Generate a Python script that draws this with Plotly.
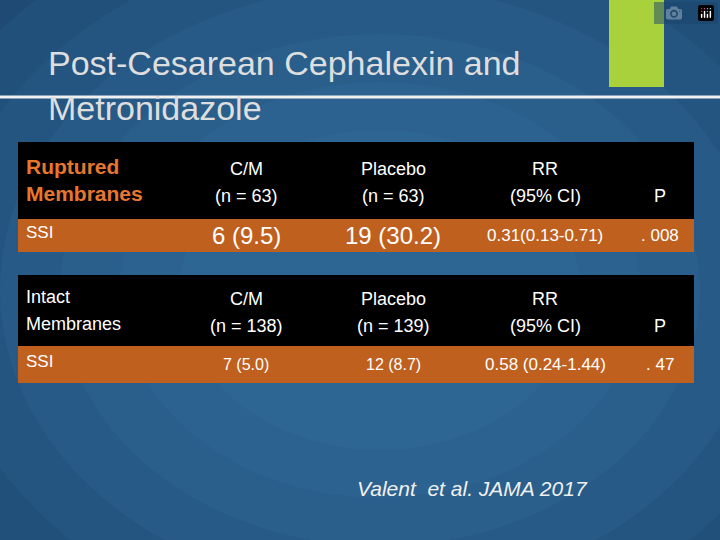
import plotly.graph_objects as go

title_lines = ["Post-Cesarean Cephalexin and", "Metronidazole"]
col_x = [246, 393, 545, 660]
t1_label = ["Ruptured", "Membranes"]
t1_head = [["C/M", "(n = 63)"], ["Placebo", "(n = 63)"], ["RR", "(95% CI)"], ["", "P"]]
t1_row = ["6 (9.5)", "19 (30.2)", "0.31(0.13-0.71)", ". 008"]
t2_label = ["Intact", "Membranes"]
t2_head = [["C/M", "(n = 138)"], ["Placebo", "(n = 139)"], ["RR", "(95% CI)"], ["", "P"]]
t2_row = ["7 (5.0)", "12 (8.7)", "0.58 (0.24-1.44)", ". 47"]
citation = "Valent  et al. JAMA 2017"

fig = go.Figure()
shapes = []
ann = []
F = "Liberation Sans, Arial"

for r in [560, 500, 440, 380, 320, 260, 200]:
    shapes.append(dict(type="circle", x0=380 - r, x1=380 + r, y0=290 - r * 0.8, y1=290 + r * 0.8,
                       fillcolor="rgba(70,140,190,0.10)", line=dict(width=0), layer="below"))
shapes.append(dict(type="rect", x0=609, x1=664, y0=0, y1=87, fillcolor="#a8d13c", line=dict(width=0)))
shapes.append(dict(type="line", x0=0, x1=720, y0=97, y1=97, line=dict(color="#f0f0f0", width=3)))

for i, t in enumerate(title_lines):
    ann.append(dict(x=46, y=63 + i * 45, text=t, xanchor="left", yanchor="middle", showarrow=False,
                    font=dict(family=F, size=34, color="#dedede")))

def table(y0, ymid, y1, label, head, row, lab_color, lab_size, row_size, lab_bold):
    shapes.append(dict(type="rect", x0=18, x1=694, y0=y0, y1=ymid, fillcolor="#000000", line=dict(width=0)))
    shapes.append(dict(type="rect", x0=18, x1=694, y0=ymid, y1=y1, fillcolor="#c0601f", line=dict(width=0)))
    hy = (y0 + ymid) / 2
    for k, l in enumerate(label):
        txt = "<b>" + l + "</b>" if lab_bold else l
        ann.append(dict(x=24, y=hy - 14 + k * 27, text=txt, xanchor="left", yanchor="middle", showarrow=False,
                        font=dict(family=F, size=lab_size, color=lab_color)))
    for x, h in zip(col_x, head):
        for k, l in enumerate(h):
            if l:
                ann.append(dict(x=x, y=hy - 12 + k * 27, text=l, xanchor="center", yanchor="middle", showarrow=False,
                                font=dict(family=F, size=18, color="white")))
    ry = (ymid + y1) / 2
    ann.append(dict(x=24, y=ry - 3, text="SSI", xanchor="left", yanchor="middle", showarrow=False,
                    font=dict(family=F, size=17, color="white")))
    for j, (x, v) in enumerate(zip(col_x, row)):
        s = row_size if j < 2 else 17
        ann.append(dict(x=x, y=ry, text=v, xanchor="center", yanchor="middle", showarrow=False,
                        font=dict(family=F, size=s, color="white")))

table(142, 219, 252, t1_label, t1_head, t1_row, "#e8772e", 21, 24, True)
table(275, 346, 383, t2_label, t2_head, t2_row, "white", 18, 16, False)

ann.append(dict(x=355, y=488, text="<i>" + citation + "</i>", xanchor="left", yanchor="middle", showarrow=False,
                font=dict(family=F, size=21, color="#f0f0f0")))

fig.update_layout(width=720, height=540, margin=dict(l=0, r=0, t=0, b=0),
                  paper_bgcolor="#1a436b", plot_bgcolor="#1a436b",
                  xaxis=dict(range=[0, 720], visible=False, fixedrange=True),
                  yaxis=dict(range=[540, 0], visible=False, fixedrange=True),
                  shapes=shapes, annotations=ann, showlegend=False)
fig.write_html("out.html", post_script="document.body.style.margin='0';")
